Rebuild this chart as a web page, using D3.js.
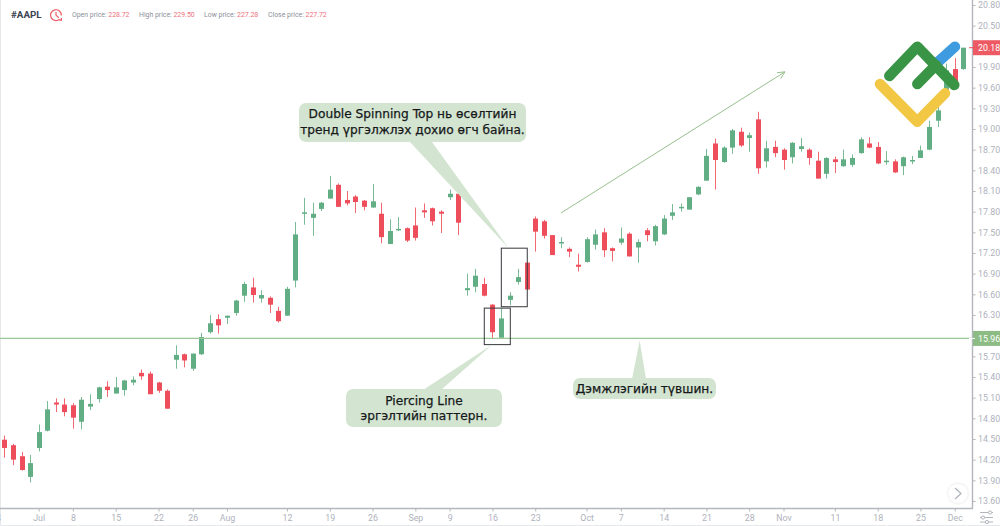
<!DOCTYPE html>
<html>
<head>
<meta charset="utf-8">
<title>#AAPL</title>
<script src="https://cdn.jsdelivr.net/npm/d3@7"></script>
<style>
  html, body { margin: 0; padding: 0; background: #fff; overflow: hidden; }
  svg { display: block; }
  text { font-family: Roboto, sans-serif; }
  .note text { font-family: "DejaVu Sans", sans-serif; font-weight: 400; font-size: 12.2px; fill: #16181a; text-anchor: middle; stroke: #16181a; stroke-width: 0.25px; }
</style>
</head>
<body>
<svg id="chart" width="1000" height="526"></svg>
<script>
// Daily AAPL candles, oldest first.
const opens = [14.49,14.41,14.25,13.95,14.37,14.62,15.03,15.00,14.99,14.75,14.97,15.08,15.26,15.16,15.21,15.32,15.46,15.45,15.32,15.20,
  15.65,15.73,15.52,15.73,16.05,16.24,16.26,16.33,16.58,16.70,16.54,16.55,16.36,16.29,16.80,17.77,17.71,17.84,17.99,18.19,
  17.97,18.02,17.96,17.86,17.77,17.33,17.53,17.56,17.60,17.82,17.85,17.80,18.01,18.06,16.66,16.71,16.75,16.45,15.97,16.52,
  16.78,17.06,17.70,17.66,17.46,17.34,17.26,17.03,17.07,17.32,17.50,17.27,17.35,17.48,17.28,17.53,17.37,17.47,17.74,17.86,
  17.83,18.05,18.25,18.79,18.52,18.73,18.96,18.87,19.14,18.53,18.74,18.70,18.59,18.71,18.70,18.54,18.35,18.56,18.46,18.48,
  18.65,18.79,18.74,18.52,18.53,18.46,18.53,18.58,18.70,19.12,19.55,19.87,19.87];
const highs = [14.55,14.43,14.31,14.27,14.71,15.05,15.09,15.09,15.02,15.11,15.15,15.26,15.34,15.40,15.36,15.41,15.51,15.48,15.33,15.22,
  15.86,15.74,15.74,16.04,16.30,16.31,16.29,16.52,16.78,16.84,16.66,16.57,16.42,16.71,17.65,18.00,17.93,17.94,18.32,18.21,
  18.10,18.04,17.97,18.20,17.93,17.69,17.72,17.57,17.86,17.92,17.86,17.82,18.12,18.07,16.90,16.97,16.84,16.46,16.40,16.63,
  16.97,17.06,17.73,17.68,17.46,17.43,17.28,17.19,17.43,17.54,17.56,17.28,17.57,17.50,17.40,17.56,17.61,17.75,17.91,17.92,
  18.01,18.17,18.71,18.86,18.75,19.00,19.02,18.95,19.25,18.83,18.83,18.72,18.81,18.87,18.72,18.67,18.59,18.60,18.70,18.63,
  18.88,18.88,18.81,18.68,18.56,18.60,18.61,18.76,19.12,19.35,19.95,20.03,20.18];
const lows = [14.23,14.12,14.04,13.87,14.32,14.61,14.89,14.83,14.65,14.64,14.92,15.03,15.11,15.16,15.13,15.28,15.36,15.15,15.17,14.94,
  15.52,15.54,15.49,15.72,16.03,16.03,16.17,16.29,16.49,16.48,16.48,16.33,16.19,16.29,16.70,17.61,17.45,17.81,17.99,17.87,
  17.89,17.78,17.82,17.86,17.34,17.33,17.52,17.36,17.38,17.71,17.60,17.49,17.97,17.46,16.58,16.63,16.57,15.95,15.97,16.44,
  16.74,16.67,17.22,17.41,17.17,17.27,17.14,16.93,17.06,17.25,17.14,17.08,17.32,17.15,17.06,17.37,17.31,17.46,17.68,17.80,
  17.83,18.04,18.25,18.12,18.51,18.64,18.74,18.67,18.35,18.44,18.59,18.41,18.50,18.67,18.48,18.28,18.28,18.36,18.45,18.45,
  18.64,18.72,18.49,18.48,18.36,18.33,18.49,18.58,18.69,19.03,19.50,19.60,19.86];
const closes = [14.37,14.20,14.05,14.15,14.60,14.93,15.00,14.89,14.81,15.07,15.01,15.25,15.21,15.25,15.35,15.36,15.41,15.15,15.20,14.94,
  15.72,15.64,15.74,15.98,16.18,16.15,16.29,16.51,16.75,16.59,16.59,16.45,16.21,16.68,17.47,17.79,17.77,17.93,18.12,17.87,
  17.92,17.94,17.87,17.95,17.43,17.52,17.55,17.38,17.42,17.79,17.66,17.77,18.06,17.64,16.69,16.87,16.58,16.05,16.25,16.58,
  16.85,16.67,17.51,17.45,17.17,17.36,17.22,17.00,17.40,17.47,17.24,17.23,17.41,17.15,17.36,17.46,17.59,17.70,17.79,17.87,
  18.01,18.16,18.61,18.55,18.73,18.98,18.76,18.91,18.43,18.72,18.65,18.55,18.80,18.75,18.58,18.28,18.58,18.52,18.56,18.58,
  18.85,18.73,18.50,18.54,18.37,18.59,18.55,18.69,19.03,19.27,19.85,19.66,20.18];

// Axis labels: candle index on the time axis, and the price ticks.
const dateTickIndex = [-1,4,8,13,18,22,26,33,38,43,48,52,57,62,68,72,77,82,87,91,97,102,107,111];
const dateTickLabels = ["24","Jul","8","15","22","26","Aug","12","19","26","Sep","9","16","23","Oct","7","14","21","28","Nov","11","18","25","Dec"];
const priceTicks = [13.6,13.9,14.2,14.5,14.8,15.1,15.4,15.7,16.3,16.6,16.9,17.2,17.5,17.8,18.1,18.4,18.7,19.0,19.3,19.6,19.9,20.5,20.8];

// Reference levels and the pattern annotations, in candle index / price terms.
const supportLevel = 15.96;
const lastPrice = 20.18;
const headerStats = [["Open price: ", "228.72", 72], ["High price: ", "229.50", 139], ["Low price: ", "227.28", 204], ["Close price: ", "227.72", 268]];
const patternBoxes = [[56.05, 59.09, 16.40, 15.87], [58.04, 61.07, 17.27, 16.42]];
const trendArrow = [[65, 17.78], [91.17, 19.83]];

const colors = { up: "#62ae84", down: "#ee4e5b", support: "#9cc796", note: "#d3e5d1", axis: "#b3b6bd", tick: "#aeb2bb" };
const axisX = 972, axisY = 508;

const svg = d3.select("#chart");
const x = d3.scaleLinear().domain([0, 112]).range([4.4, 963.3]);
const y = d3.scaleLinear().domain([13.6, 20.8]).range([501, 5]);

// Page frame
svg.append("path").attr("d", "M0.5,0V525.5H1000").attr("fill", "none").attr("stroke", "#e6e8ec");

// Candles
svg.append("clipPath").attr("id", "plot").append("rect").attr("width", axisX).attr("height", axisY);
const candles = svg.append("g").attr("clip-path", "url(#plot)").selectAll("g")
  .data(opens.map((o, i) => ({ i, o, h: highs[i], l: lows[i], c: closes[i] })))
  .join("g")
  .attr("fill", d => d.c >= d.o ? colors.up : colors.down)
  .attr("stroke", d => d.c >= d.o ? colors.up : colors.down);
candles.append("line")
  .attr("x1", d => Math.round(x(d.i)) + 0.5).attr("x2", d => Math.round(x(d.i)) + 0.5)
  .attr("y1", d => y(d.h)).attr("y2", d => y(d.l))
  .attr("stroke-width", 1).attr("stroke-opacity", 0.85);
candles.append("rect")
  .attr("x", d => Math.round(x(d.i)) - 2)
  .attr("width", 5)
  .attr("y", d => Math.min(y(d.o), y(d.c)))
  .attr("height", d => Math.max(1.5, Math.abs(y(d.o) - y(d.c))))
  .attr("stroke", "none");

// Support level
svg.append("line").attr("x1", 0).attr("x2", axisX).attr("y1", y(supportLevel)).attr("y2", y(supportLevel))
  .attr("stroke", colors.support).attr("stroke-width", 1.2);

// Pattern boxes
svg.append("g").selectAll("rect").data(patternBoxes).join("rect")
  .attr("x", d => x(d[0])).attr("width", d => x(d[1]) - x(d[0]))
  .attr("y", d => y(d[2])).attr("height", d => y(d[3]) - y(d[2]))
  .attr("fill", "none").attr("stroke", "#34373b").attr("stroke-width", 1);

// Trend arrow
const [from, to] = trendArrow.map(([i, p]) => [x(i), y(p)]);
const arrowAngle = Math.atan2(to[1] - from[1], to[0] - from[0]);
const barb = s => [to[0] - 8 * Math.cos(arrowAngle + s), to[1] - 8 * Math.sin(arrowAngle + s)];
svg.append("path")
  .attr("d", d3.line()([from, to]) + "M" + barb(0.45) + "L" + to + "L" + barb(-0.45))
  .attr("fill", "none").attr("stroke", "#98c08f").attr("stroke-width", 1);

// Callouts: bubble box, tail base and tail tip (candle index / price), text lines
const callouts = [
  { box: [299, 103, 227, 39], tail: [[410, 142], [432, 142]], tip: [58.9, 17.27],
    lines: ["Double Spinning Top нь өсөлтийн", "тренд үргэлжлэх дохио өгч байна."], base: [118, 133.5] },
  { box: [346, 389, 156, 38], tail: [[423, 390], [441, 390]], tip: [57, 15.87],
    lines: ["Piercing Line", "эргэлтийн паттерн."], base: [405, 420] },
  { box: [573, 378, 143, 21], tail: [[632, 379], [646, 379]], tip: [74.2, 15.93],
    lines: ["Дэмжлэгийн түвшин."], base: [393] }
];
const note = svg.append("g").attr("class", "note").selectAll("g").data(callouts).join("g");
note.append("path")
  .attr("d", d => d3.line()([d.tail[0], [x(d.tip[0]), y(d.tip[1])], d.tail[1]]))
  .attr("fill", colors.note);
note.append("rect")
  .attr("x", d => d.box[0]).attr("y", d => d.box[1]).attr("width", d => d.box[2]).attr("height", d => d.box[3])
  .attr("rx", 7).attr("fill", colors.note);
note.each(function (d) {
  const cx = d.box[0] + d.box[2] / 2;
  d.lines.forEach((t, k) => d3.select(this).append("text").attr("x", cx).attr("y", d.base[k]).text(t));
});

// Axes
const yAxis = svg.append("g").attr("transform", `translate(${axisX + 0.5},0)`)
  .call(d3.axisRight(y).tickValues(priceTicks).tickSize(3).tickPadding(2.5).tickFormat(d3.format(".2f")));
const xAxis = svg.append("g").attr("transform", `translate(0,${axisY + 0.5})`)
  .call(d3.axisBottom(x).tickValues(dateTickIndex).tickSize(3).tickPadding(3)
    .tickFormat(v => dateTickLabels[dateTickIndex.indexOf(v)]));
yAxis.select(".domain").attr("d", `M0,0V${axisY}`);
xAxis.select(".domain").attr("d", `M0,0H${axisX + 1}`);
[xAxis, yAxis].forEach(a => {
  a.select(".domain").attr("stroke", colors.axis).attr("stroke-width", 1.4);
  a.selectAll(".tick line").attr("stroke", colors.axis);
  a.selectAll(".tick text").attr("fill", colors.tick).style("font-size", "8.8px").style("font-family", "Roboto, sans-serif");
});

// Price flags on the axis
const flags = [[supportLevel, "#8cbc84", colors.support], [lastPrice, "#ee5a64", colors.down]];
flags.forEach(([v, fill, mark]) => {
  const py = y(v);
  svg.append("rect").attr("x", axisX + 1).attr("y", py - 7.5).attr("width", 27).attr("height", 15).attr("fill", fill);
  svg.append("line").attr("x1", axisX - 3).attr("x2", axisX + 3).attr("y1", py).attr("y2", py).attr("stroke", v === lastPrice ? mark : "#fff");
  svg.append("text").attr("x", axisX + 6).attr("y", py + 3.2).attr("fill", "#fff").style("font-size", "8.8px").text(v.toFixed(2));
});

// Header
svg.append("text").attr("x", 11).attr("y", 18).attr("fill", "#3b4454").style("font-size", "9.8px").style("font-weight", 700).text("#AAPL");
const clock = svg.append("g").attr("transform", "translate(56,14.5)").attr("fill", "none").attr("stroke", "#ee5a64").attr("stroke-width", 1.2);
clock.append("path").attr("d", "M3.6,4.6A5.4,5.4 0 1 1 5.3,1");
clock.append("path").attr("d", "M0,-2.6V0.6L2.8,3.2M5.4,3.4V5.6H3.2");
headerStats.forEach(([label, value, px]) => {
  const t = svg.append("text").attr("x", px).attr("y", 17).style("font-size", "6.9px");
  t.append("tspan").attr("fill", "#8b909b").text(label);
  t.append("tspan").attr("fill", "#ef6f7c").text(value);
});

// Scroll button
const defs = svg.append("defs");
defs.append("filter").attr("id", "soft").attr("x", "-40%").attr("y", "-40%").attr("width", "180%").attr("height", "180%")
  .append("feDropShadow").attr("dx", 0).attr("dy", 0).attr("stdDeviation", 1.6).attr("flood-color", "#000").attr("flood-opacity", 0.16);
svg.append("circle").attr("cx", 958).attr("cy", 493.5).attr("r", 9.5).attr("fill", "#fff").attr("filter", "url(#soft)");
svg.append("path").attr("d", "M955,488L961,493.5L955,499").attr("fill", "none").attr("stroke", "#aeb2ba").attr("stroke-width", 1.2);

// Settings icon
const gear = svg.append("g").attr("stroke", "#b3b6bd").attr("fill", "#fff").attr("stroke-width", 1);
[[512.5, 990], [517.5, 983], [522, 987]].forEach(([ly, kx]) => {
  gear.append("line").attr("x1", 980).attr("x2", 993).attr("y1", ly).attr("y2", ly);
  gear.append("circle").attr("cx", kx).attr("cy", ly).attr("r", 1.6);
});

// Logo mark
const logo = svg.append("g").attr("fill", "none").attr("stroke-width", 10.5).attr("stroke-linecap", "round").attr("stroke-linejoin", "round");
logo.append("path").attr("stroke", "#f2c744").attr("d", "M880,84L917.3,121.7L945,93.3");
logo.append("path").attr("stroke", "#3f9be0").attr("d", "M938,62L955,46.7");
logo.append("path").attr("stroke", "#3a9445").attr("d", "M889.3,76L917.3,46.7L954.3,85M917.3,84L936,65");
</script>
</body>
</html>
